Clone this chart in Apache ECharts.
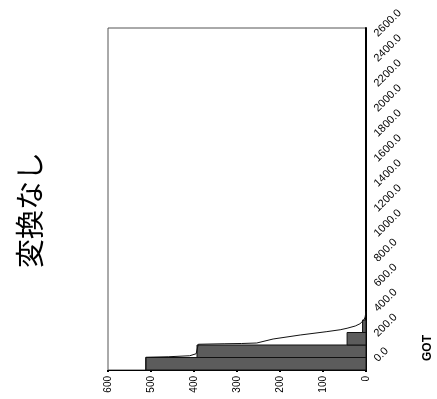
<!DOCTYPE html>
<html>
<head>
<meta charset="utf-8">
<script src="https://cdn.jsdelivr.net/npm/echarts@6/dist/echarts.min.js"></script>
<style>
html,body{margin:0;padding:0;background:#fff;}
#c{width:437px;height:399px;}
</style>
</head>
<body>
<div id="c"></div>
<script>
// Histogram bins (GOT ranges) and frequencies
var binStart = [0, 100, 200, 300];
var binEnd = [100, 200, 300, 400];
var counts = [512, 393, 44, 8];
// Fitted curve (frequency, GOT)
var curveFreq = [512, 512, 460, 410, 395, 390, 330, 290, 254, 216, 153, 91, 60, 44, 25, 14, 5, 2, 0];
var curveGot = [0, 102, 106, 114, 130, 206, 210, 212, 216, 248, 280, 307, 322, 334, 352, 370, 400, 424, 470];
// Axis settings
var freqTicks = [0, 100, 200, 300, 400, 500, 600];
var gotTickLabels = ['0.0','200.0','400.0','600.0','800.0','1000.0','1200.0','1400.0','1600.0','1800.0','2000.0','2200.0','2400.0','2600.0'];
var titleText = '変換なし';
var gotName = 'GOT';

var chart = echarts.init(document.getElementById('c'), null, {renderer: 'canvas'});
var histData = binStart.map(function (s, i) { return [s, binEnd[i], counts[i]]; });
var curveData = curveFreq.map(function (f, i) { return [f, curveGot[i]]; });

chart.setOption({
  animation: false,
  backgroundColor: '#fff',
  grid: {left: 108, right: 71, top: 28, bottom: 29, show: true, borderColor: '#555', borderWidth: 1, containLabel: false},
  xAxis: {
    type: 'value', inverse: true, min: 0, max: 600, interval: 100, position: 'bottom',
    splitLine: {show: false},
    axisLine: {show: true, lineStyle: {color: '#000', width: 1}},
    axisTick: {show: true, length: 2, lineStyle: {color: '#000', width: 2}},
    axisLabel: {rotate: 90, margin: 6, color: '#000', fontSize: 10, fontFamily: 'Liberation Sans Narrow, Liberation Sans, sans-serif'}
  },
  yAxis: {
    type: 'value', position: 'right', min: 0, max: 2736, interval: 200,
    splitLine: {show: false},
    axisLine: {show: true, lineStyle: {color: '#000', width: 2}},
    axisTick: {show: false},
    axisLabel: {
      rotate: 45, margin: 0, color: '#000', fontSize: 11, showMaxLabel: false,
      fontFamily: 'Liberation Sans Narrow, Liberation Sans, sans-serif',
      padding: [0, 0, 19, 14],
      formatter: function (v) { var i = Math.round(v / 200); return gotTickLabels[i] !== undefined ? gotTickLabels[i] : ''; }
    }
  },
  graphic: [
    {type: 'text', x: 30, y: 210, rotation: Math.PI / 2,
      style: {text: titleText, font: '29px "Noto Sans CJK JP"', fill: '#000', textAlign: 'center', textVerticalAlign: 'middle'}},
    {type: 'text', x: 428, y: 348, rotation: Math.PI / 2,
      style: {text: gotName, font: 'bold 12px "Liberation Sans", Arial, sans-serif', fill: '#000', textAlign: 'center', textVerticalAlign: 'middle'}}
  ],
  series: [
    {
      type: 'custom',
      coordinateSystem: 'cartesian2d',
      data: histData,
      encode: {x: 2, y: [0, 1]},
      renderItem: function (params, api) {
        var p1 = api.coord([api.value(2), api.value(1)]);
        var p0 = api.coord([0, api.value(0)]);
        var x = Math.min(p0[0], p1[0]), y = Math.min(p0[1], p1[1]);
        return {type: 'rect', shape: {x: x, y: y, width: Math.abs(p1[0] - p0[0]), height: Math.abs(p1[1] - p0[1])},
          style: {fill: '#5c5c5c', stroke: '#111', lineWidth: 1}};
      },
      z: 2
    },
    {
      type: 'line', data: curveData, smooth: false, showSymbol: false, symbol: 'none',
      lineStyle: {color: '#111', width: 1}, z: 3
    }
  ]
});
</script>
</body>
</html>
